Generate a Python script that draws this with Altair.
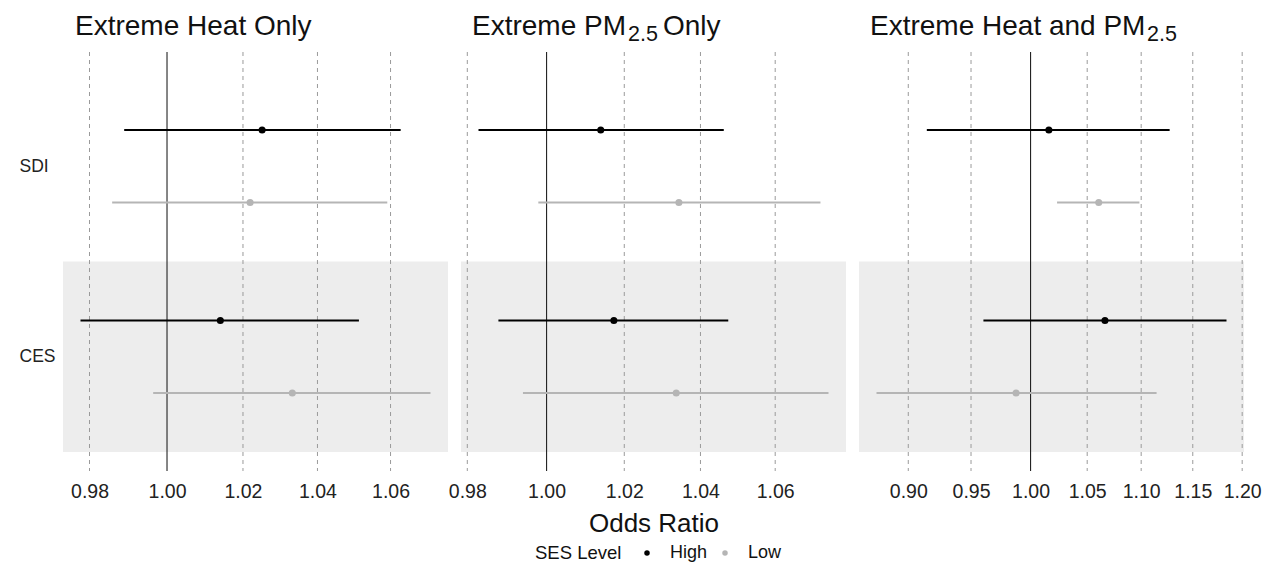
import altair as alt
import pandas as pd
import numpy as np

# ---------------- data ----------------
groups = ["SDI", "SDI", "CES", "CES"]
levels = ["High", "Low", "High", "Low"]

heat_or = [1.0251, 1.0219, 1.0140, 1.0332]
heat_lo = [0.9889, 0.9858, 0.9777, 0.9964]
heat_hi = [1.0628, 1.0591, 1.0513, 1.0711]

pm_or = [1.0139, 1.0343, 1.0173, 1.0336]
pm_lo = [0.9828, 0.9979, 0.9878, 0.9940]
pm_hi = [1.0462, 1.0723, 1.0474, 1.0745]

both_or = [1.0159, 1.0605, 1.0662, 0.9876]
both_lo = [0.9145, 1.0231, 0.9602, 0.8757]
both_hi = [1.1273, 1.0983, 1.1839, 1.1147]

ticks_small = [0.98, 1.00, 1.02, 1.04, 1.06]
ticks_wide = [0.90, 0.95, 1.00, 1.05, 1.10, 1.15, 1.20]
reference_or = 1.0

group_pos = {"SDI": 2, "CES": 1}
level_offset = {"High": 0.19, "Low": -0.19}

FONT = "Liberation Sans"
W, H = 385, 419

color_scale = alt.Scale(domain=["High", "Low"], range=["#000000", "#b5b5b5"])
y_scale = alt.Scale(domain=[0.4, 2.6], nice=False, zero=False)

legend = alt.Legend(title="SES Level", orient="none", legendX=472, legendY=492,
                    direction="horizontal", titleOrient="left", padding=0,
                    titleFontSize=18.5, titleFontWeight="normal", titleColor="#111111",
                    titleFont=FONT, titlePadding=16, labelFont=FONT,
                    labelFontSize=18, labelColor="#111111", labelOffset=14,
                    columnPadding=8, symbolSize=30, symbolType="circle",
                    symbolStrokeWidth=0)


def log_domain(lo, hi):
    l, h = np.log(min(lo)), np.log(max(hi))
    r = h - l
    return [float(np.exp(l - 0.05 * r)), float(np.exp(h + 0.05 * r))]


def panel(title_parts, o, lo, hi, ticks, show_y, show_xtitle):
    df = pd.DataFrame({"group": groups, "level": levels, "OR": o, "lo": lo, "hi": hi})
    df["y"] = df["group"].map(group_pos) + df["level"].map(level_offset)

    xs = alt.Scale(type="log", domain=log_domain(lo, hi), nice=False, zero=False)
    xkw = dict(values=ticks, format=".2f", grid=False, domain=False, ticks=False,
               tickSize=0, labelFontSize=19.5, labelColor="#222222", labelPadding=11,
               labelFont=FONT)
    if show_xtitle:
        xax = alt.Axis(title="Odds Ratio", titleFontSize=26, titleFontWeight="normal",
                       titleColor="#111111", titlePadding=10, titleFont=FONT, **xkw)
    else:
        xax = alt.Axis(title=None, **xkw)

    if show_y:
        yax = alt.Axis(values=[1, 2], labelExpr="datum.value == 2 ? 'SDI' : 'CES'",
                       grid=False, domain=False, ticks=False, tickSize=0, title=None,
                       labelFontSize=17.5, labelColor="#222222", labelAlign="left",
                       labelPadding=44, labelFont=FONT)
    else:
        yax = None

    band = alt.Chart(pd.DataFrame({"ylo": [0.5], "yhi": [1.5]})).mark_rect(
        color="#ededed").encode(
        x=alt.value(0), x2=alt.value(W),
        y=alt.Y("ylo:Q", scale=y_scale, axis=yax), y2="yhi:Q")

    grid_ticks = [t for t in ticks if t != reference_or]
    grid = alt.Chart(pd.DataFrame({"OR": grid_ticks})).mark_rule(
        color="#9a9a9a", strokeDash=[4, 4], strokeWidth=1).encode(
        x=alt.X("OR:Q", scale=xs, axis=xax), y=alt.value(0), y2=alt.value(H))

    ref = alt.Chart(pd.DataFrame({"OR": [reference_or]})).mark_rule(
        color="#222222", strokeWidth=1.1).encode(
        x=alt.X("OR:Q", scale=xs, axis=xax), y=alt.value(0), y2=alt.value(H))

    bars = alt.Chart(df).mark_rule(strokeWidth=2).encode(
        x=alt.X("lo:Q", scale=xs, axis=xax), x2="hi:Q",
        y=alt.Y("y:Q", scale=y_scale, axis=yax),
        color=alt.Color("level:N", scale=color_scale, legend=legend))

    pts = alt.Chart(df).mark_circle(size=50, opacity=1).encode(
        x=alt.X("OR:Q", scale=xs, axis=xax),
        y=alt.Y("y:Q", scale=y_scale, axis=yax),
        color=alt.Color("level:N", scale=color_scale, legend=legend))

    layers = [band, grid, ref, bars, pts]
    for text, tx, ty, fs in title_parts:
        layers.append(
            alt.Chart(pd.DataFrame({"s": [text]})).mark_text(
                align="left", baseline="alphabetic", fontSize=fs, font=FONT,
                color="#111111").encode(text="s:N", x=alt.value(tx), y=alt.value(ty)))

    return alt.layer(*layers).properties(width=W, height=H)


p1 = panel([("Extreme Heat Only", 12, -17, 28)], heat_or, heat_lo, heat_hi,
           ticks_small, True, False)
p2 = panel([("Extreme PM", 11, -17, 28), ("2.5", 167, -11, 21.5), ("Only", 202, -17, 28)],
           pm_or, pm_lo, pm_hi, ticks_small, False, True)
p3 = panel([("Extreme Heat and PM", 11, -17, 28), ("2.5", 288, -11, 21.5)],
           both_or, both_lo, both_hi, ticks_wide, False, False)

chart = alt.hconcat(p1, p2, p3, spacing=13, bounds="flush").resolve_scale(
    x="independent", color="shared").properties(
    padding={"left": 11, "top": 5, "right": 0, "bottom": 0}
).configure(font=FONT, background="white").configure_view(
    stroke="transparent", strokeWidth=0)

chart.save("out.html", embed_options={"renderer": "svg", "actions": False})
